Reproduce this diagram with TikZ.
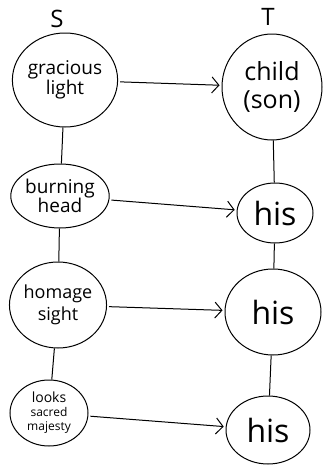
\documentclass[tikz,border=0pt]{standalone}
\usepackage{fontspec}
\setmainfont{Open Sans}
\usetikzlibrary{arrows.meta,shapes.geometric}
\tikzset{
  blob/.style={draw, ellipse, inner sep=0pt, align=center, line width=1pt},
  link/.style={line width=1pt},
  maps/.style={line width=1pt, -{Straight Barb[length=7pt,width=16pt]}, shorten <=2pt, shorten >=2pt}
}
\begin{document}
\begin{tikzpicture}[x=1pt,y=-1pt]
\fill[white] (0,0) rectangle (323,466);
\node[font=\fontsize{24}{24}\selectfont] (S) at (57,19) {S};
\node[font=\fontsize{24}{24}\selectfont] (T) at (268,17) {T};
\node[blob, minimum width=100pt, minimum height=94pt, font=\fontsize{19}{20}\selectfont] (s1) at (65,80) {gracious\\light};
\node[blob, minimum width=90pt, minimum height=64pt, font=\fontsize{19}{19}\selectfont] (s2) at (60,196) {burning\\head};
\node[blob, minimum width=96pt, minimum height=86pt, font=\fontsize{18}{22}\selectfont] (s3) at (58,305) {homage\\sight};
\node[blob, minimum width=78pt, minimum height=66pt, font=\fontsize{14}{14}\selectfont] (s4) at (49,413) {looks\\{\fontsize{12}{11}\selectfont sacred}\\{\fontsize{12}{11}\selectfont majesty}};
\node[blob, minimum width=100pt, minimum height=106pt, font=\fontsize{25}{28}\selectfont] (t1) at (272,87) {child\\(son)};
\node[blob, minimum width=76pt, minimum height=60pt, font=\fontsize{32}{32}\selectfont] (t2) at (275,213) {his};
\node[blob, minimum width=96pt, minimum height=86pt, font=\fontsize{32}{32}\selectfont] (t3) at (273,312) {his};
\node[blob, minimum width=84pt, minimum height=68pt, font=\fontsize{32}{32}\selectfont] (t4) at (268,430) {his};
\draw[link] (s1) -- (s2);
\draw[link] (s2) -- (s3);
\draw[link] (s3) -- (s4);
\draw[link] (t1) -- (t2);
\draw[link] (t2) -- (t3);
\draw[link] (t3) -- (t4);
\draw[maps] (s1) -- (t1);
\draw[maps] (s2) -- (t2);
\draw[maps] (s3) -- (t3);
\draw[maps] (s4) -- (t4);
\end{tikzpicture}
\end{document}
